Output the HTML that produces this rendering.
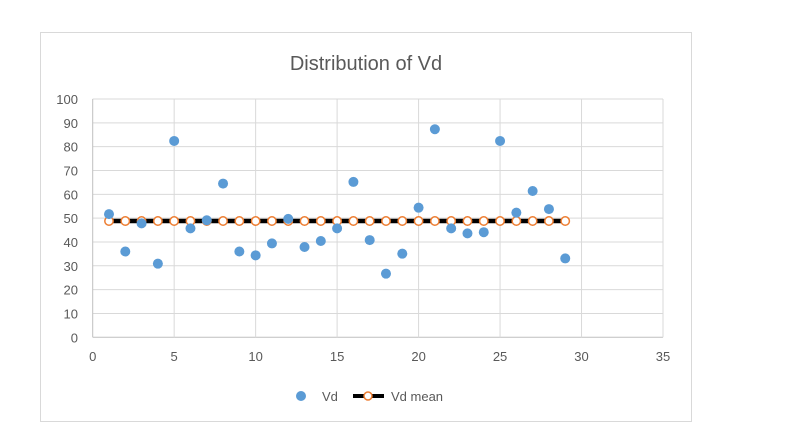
<!DOCTYPE html>
<html><head><meta charset="utf-8"><style>
body{margin:0;background:#fff;font-family:"Liberation Sans",sans-serif}
svg text{font-family:"Liberation Sans",sans-serif;fill:#595959}
</style></head><body>
<svg id="c" width="791" height="440">
<rect x="40.5" y="32.5" width="651" height="389" fill="#fff" stroke="#d9d9d9"/>
<text x="366" y="70" font-size="20" text-anchor="middle">Distribution of Vd</text>
<g id="grid"></g><g id="marks"></g>
<g>
<circle cx="301" cy="396" r="5" fill="#5b9bd5"/>
<text x="322" y="401" font-size="13">Vd</text>
<line x1="353" y1="396" x2="384" y2="396" stroke="#000" stroke-width="4"/>
<circle cx="368" cy="396" r="4" fill="#fff" stroke="#ed7d31" stroke-width="1.5"/>
<text x="391" y="401" font-size="13">Vd mean</text>
</g>
</svg>
<script>
const xs=[1,2,3,4,5,6,7,8,9,10,11,12,13,14,15,16,17,18,19,20,21,22,23,24,25,26,27,28,29];
const vd=[51.7,36,47.8,30.9,82.4,45.7,49.1,64.5,36,34.4,39.4,49.7,37.9,40.4,45.7,65.2,40.8,26.7,35.1,54.4,87.3,45.7,43.6,44.1,82.4,52.3,61.4,53.8,33.1];
const vdMean=48.8;
const xTicks=[0,5,10,15,20,25,30,35];
const yTicks=[0,10,20,30,40,50,60,70,80,90,100];
const X0=92.7,X1=663,Y0=337.3,Y1=99;
const xS=v=>X0+(X1-X0)*v/35, yS=v=>Y0-(Y0-Y1)*v/100;
const NS="http://www.w3.org/2000/svg";
const g=document.getElementById('grid'),m=document.getElementById('marks');
function mk(p,tag,a){const e=document.createElementNS(NS,tag);for(const k in a)e.setAttribute(k,a[k]);p.appendChild(e);return e;}
yTicks.forEach(t=>{const l=mk(g,'line',{x1:X0,x2:X1,y1:yS(t),y2:yS(t),stroke:t==0?'#bfbfbf':'#d9d9d9'});


const tx=mk(g,'text',{x:78,y:yS(t)+5,'font-size':13,'text-anchor':'end'});tx.textContent=t;

});
xTicks.forEach(t=>{const l=mk(g,'line',{x1:xS(t),x2:xS(t),y1:Y1,y2:Y0,stroke:t==0?'#bfbfbf':'#d9d9d9'});


const tx=mk(g,'text',{x:xS(t),y:361,'font-size':13,'text-anchor':'middle'});tx.textContent=t;

});
const ml=mk(m,'line',{x1:xS(xs[0]),x2:xS(xs[xs.length-1]),y1:yS(vdMean),y2:yS(vdMean),stroke:'#000','stroke-width':4.5});


xs.forEach(x=>{const c=mk(m,'circle',{cx:xS(x),cy:yS(vdMean),r:4.2,fill:'#fff',stroke:'#ed7d31','stroke-width':1.5});

});
xs.forEach((x,i)=>{const c=mk(m,'circle',{cx:xS(x),cy:yS(vd[i]),r:5,fill:'#5b9bd5'});

});
</script>
</body></html>
